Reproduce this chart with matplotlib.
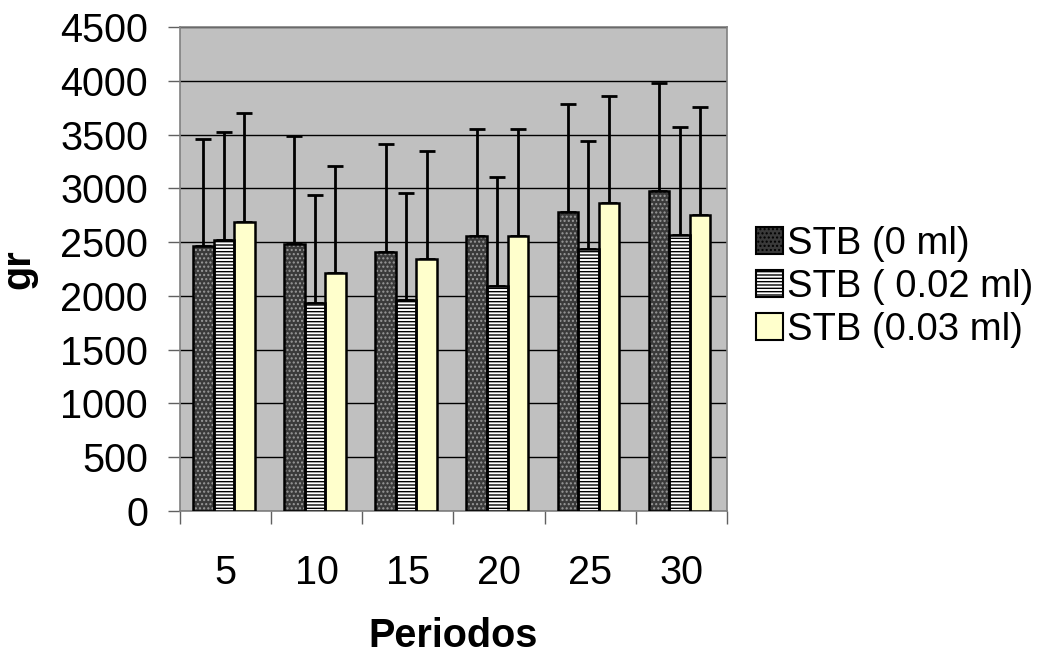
import matplotlib.pyplot as plt
import numpy as np

plt.rcParams['font.family'] = ['Liberation Sans', 'DejaVu Sans']
plt.rcParams['hatch.linewidth'] = 1.0

periods = ['5', '10', '15', '20', '25', '30']
labels = ['STB (0 ml)', 'STB ( 0.02 ml)', 'STB (0.03 ml)']
means = [
    [2462, 2483, 2412, 2555, 2778, 2976],
    [2516, 1938, 1960, 2096, 2434, 2567],
    [2688, 2211, 2341, 2561, 2859, 2750],
]
errs = [
    [995, 999, 1001, 998, 1004, 1005],
    [1009, 998, 995, 1005, 1004, 1002],
    [1008, 995, 1004, 995, 1004, 1002],
]

faces = ['#3a3a3a', 'white', '#ffffcc']
hatches = ['....', '-----', None]
hatch_cols = ['#9a9a9a', 'black', 'black']
fs = 28.5

fig = plt.figure(figsize=(10.55, 6.54), dpi=100)
ax = fig.add_axes([180 / 1055, 1 - 511 / 654, 547 / 1055, 484 / 654])
ax.set_facecolor('#c0c0c0')

x = np.arange(len(periods))
w = 0.225
handles = []
for i in range(3):
    pos = x + (i - 1) * w - 0.02
    # hatch layer (hatch takes edge colour), then black outline on top
    ax.bar(pos, means[i], w, color=faces[i], hatch=hatches[i],
           edgecolor=hatch_cols[i], linewidth=0, zorder=3)
    ax.bar(pos, means[i], w, fill=False, edgecolor='black',
           linewidth=1.8, zorder=4)
    ax.errorbar(pos, means[i], yerr=[np.zeros(6), errs[i]], fmt='none',
                ecolor='black', elinewidth=2, capsize=5.5, capthick=2,
                zorder=2)
    h = plt.Rectangle((0, 0), 1, 1, facecolor=faces[i], hatch=hatches[i],
                      edgecolor=hatch_cols[i], linewidth=0)
    handles.append(h)

ax.set_ylim(0, 4500)
ax.set_xlim(-0.5, 5.5)
ax.set_yticks(np.arange(0, 4501, 500))
ax.yaxis.grid(True, color='black', linewidth=1)
ax.set_axisbelow(True)

ax.set_xticks(np.arange(-0.5, 6, 1))
ax.set_xticklabels([])
ax.set_xticks(x, minor=True)
ax.set_xticklabels(periods, minor=True)
ax.tick_params(axis='x', which='minor', length=0, pad=31, labelsize=fs)
ax.tick_params(axis='x', which='major', length=9, width=1, color='#606060')
ax.tick_params(axis='y', length=9, width=1, color='#606060', pad=14,
               labelsize=fs)

for s in ax.spines.values():
    s.set_color('#808080')
    s.set_linewidth(1.2)

ax.set_xlabel('Periodos', fontsize=fs, fontweight='bold', labelpad=18)
ax.set_ylabel('gr', fontsize=fs, fontweight='bold', labelpad=16)

leg = fig.legend(handles, labels, loc='center left',
                 bbox_to_anchor=(756 / 1055, 1 - 287 / 654),
                 frameon=False, fontsize=27.5, handlelength=0.7,
                 handleheight=0.7, handletextpad=0.12, labelspacing=0.18,
                 borderpad=0, borderaxespad=0)
for p in leg.get_patches():
    p.set_edgecolor('black')
    p.set_linewidth(1.5)

fig.savefig('out.png', dpi=100)
